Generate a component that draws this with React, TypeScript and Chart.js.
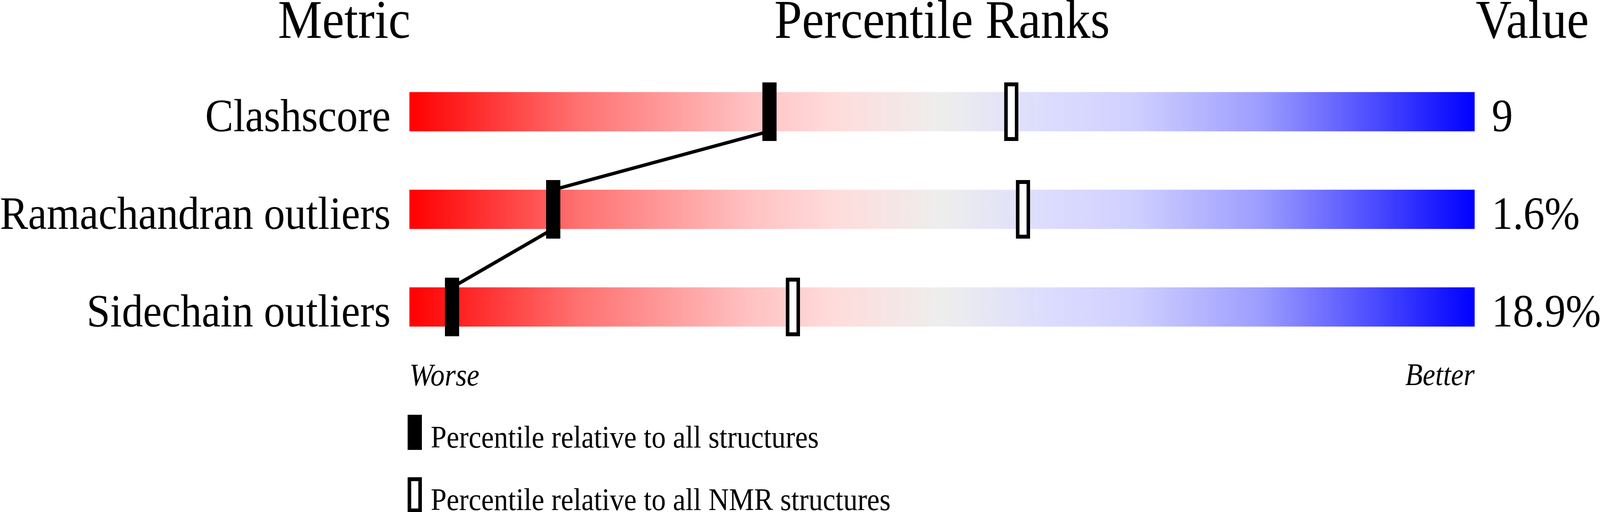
import { Chart, registerables } from 'chart.js';
import React, { useEffect, useRef } from 'react';

Chart.register(...registerables);

// metrics, their raw values and percentile ranks (0-100)
const metrics = ['Clashscore', 'Ramachandran outliers', 'Sidechain outliers'];
const valueLabels = ['9', '1.6%', '18.9%'];
const pctAll = [33.8, 13.5, 4.0];
const pctNmr = [56.5, 57.6, 36.0];
const rankRange = [0, 100];

const legendLabels = ['Percentile relative to all structures', 'Percentile relative to all NMR structures'];

// drawing size of the figure; the canvas is then stretched over the viewport
const W = 4506;
const H = 1311;
const SERIF = "'Liberation Serif', 'Times New Roman', serif";
const BAR_H = 100;
const MARK_W = 40;
const MARK_H = 150;

const gradientStops: [number, string][] = [
    [0, '#ff0000'],
    [0.16, '#ff7272'],
    [0.32, '#ffc2c2'],
    [0.4, '#ffdcdc'],
    [0.5, '#eeeeee'],
    [0.6, '#dcdcff'],
    [0.68, '#d0d0ff'],
    [0.8, '#9c9cff'],
    [0.9, '#5050ff'],
    [1, '#0000ff'],
];

const percentilePlugin = {
    id: 'percentileMarks',
    afterDatasetsDraw(chart: any) {
        const { ctx, scales } = chart;
        const x = scales.x;
        const y = scales.y;
        ctx.save();

        // connecting line between "all structures" markers
        ctx.strokeStyle = '#000';
        ctx.lineWidth = 9;
        ctx.beginPath();
        for (let i = 0; i < metrics.length - 1; i++) {
            ctx.moveTo(x.getPixelForValue(pctAll[i]), y.getPixelForValue(i) + BAR_H / 2);
            ctx.lineTo(x.getPixelForValue(pctAll[i + 1]), y.getPixelForValue(i + 1) - BAR_H / 2);
        }
        ctx.stroke();

        metrics.forEach((_, i) => {
            const yc = y.getPixelForValue(i);
            // NMR: hollow marker
            const xn = x.getPixelForValue(pctNmr[i]);
            ctx.fillStyle = '#000';
            ctx.fillRect(xn - MARK_W / 2, yc - MARK_H / 2, MARK_W, MARK_H);
            ctx.fillStyle = '#fff';
            ctx.fillRect(xn - MARK_W / 2 + 10, yc - MARK_H / 2 + 10, MARK_W - 20, MARK_H - 20);
            // all structures: filled marker
            const xa = x.getPixelForValue(pctAll[i]);
            ctx.fillStyle = '#000';
            ctx.fillRect(xa - MARK_W / 2, yc - MARK_H / 2, MARK_W, MARK_H);
        });
        ctx.restore();
    },
    afterDraw(chart: any) {
        const { ctx, chartArea, scales } = chart;
        const y = scales.y;
        ctx.save();
        ctx.fillStyle = '#000';
        ctx.textBaseline = 'alphabetic';

        // headers
        ctx.font = `140px ${SERIF}`;
        const headY = chartArea.top - 64;
        ctx.textAlign = 'right';
        ctx.fillText('Metric', chartArea.left + 3, headY);
        ctx.textAlign = 'center';
        ctx.fillText('Percentile Ranks', (chartArea.left + chartArea.right) / 2, headY);
        ctx.textAlign = 'left';
        ctx.fillText('Value', chartArea.right + 3, headY);

        // row labels and values
        ctx.font = `119px ${SERIF}`;
        metrics.forEach((m, i) => {
            const base = y.getPixelForValue(i) + BAR_H / 2;
            ctx.textAlign = 'right';
            ctx.fillText(m, chartArea.left - 53, base);
            ctx.textAlign = 'left';
            ctx.fillText(valueLabels[i], chartArea.right + 48, base);
        });

        // axis ends
        ctx.font = `italic 80px ${SERIF}`;
        ctx.textAlign = 'left';
        ctx.fillText('Worse', chartArea.left, chartArea.bottom + 76);
        ctx.textAlign = 'right';
        ctx.fillText('Better', chartArea.right, chartArea.bottom + 75);

        // legend
        const lx = chartArea.left - 5;
        legendLabels.forEach((label, i) => {
            const top = chartArea.bottom + 151 + i * 160;
            ctx.fillStyle = '#000';
            ctx.fillRect(lx, top, 40, 90);
            if (i === 1) {
                ctx.fillStyle = '#fff';
                ctx.fillRect(lx + 10, top + 10, 20, 70);
                ctx.fillStyle = '#000';
            }
            ctx.font = `80px ${SERIF}`;
            ctx.textAlign = 'left';
            ctx.fillText(label, chartArea.left + 60, top + 84);
        });
        ctx.restore();
    },
};

const App: React.FC = () => {
    const canvasRef = useRef<HTMLCanvasElement>(null);

    useEffect(() => {
        document.body.style.margin = '0';
        document.body.style.overflow = 'hidden';
        if (!canvasRef.current) return;
        const chart = new Chart(canvasRef.current, {
            type: 'bar',
            data: {
                labels: metrics,
                datasets: [
                    {
                        label: 'range',
                        data: metrics.map(() => rankRange) as any,
                        barThickness: BAR_H,
                        borderWidth: 0,
                        backgroundColor: (c: any) => {
                            const area = c.chart.chartArea;
                            if (!area) return 'rgba(0,0,0,0)';
                            const g = c.chart.ctx.createLinearGradient(area.left, 0, area.right, 0);
                            gradientStops.forEach(([p, col]) => g.addColorStop(p, col));
                            return g;
                        },
                    },
                ],
            },
            options: {
                indexAxis: 'y',
                responsive: false,
                animation: false,
                devicePixelRatio: 1,
                layout: {
                    padding: { left: 1153, right: 353, top: 161, bottom: 400 },
                },
                scales: {
                    x: { type: 'linear', min: 0, max: 100, display: false },
                    y: { type: 'category', display: false, offset: true },
                },
                plugins: {
                    legend: { display: false },
                    tooltip: { enabled: false },
                },
            },
            plugins: [percentilePlugin],
        });

        return () => {
            chart.destroy();
        };
    }, []);

    return (
        <canvas
            ref={canvasRef}
            width={W}
            height={H}
            style={{ display: 'block', width: '100vw', height: '100vh' }}
        />
    );
};

export default App;
